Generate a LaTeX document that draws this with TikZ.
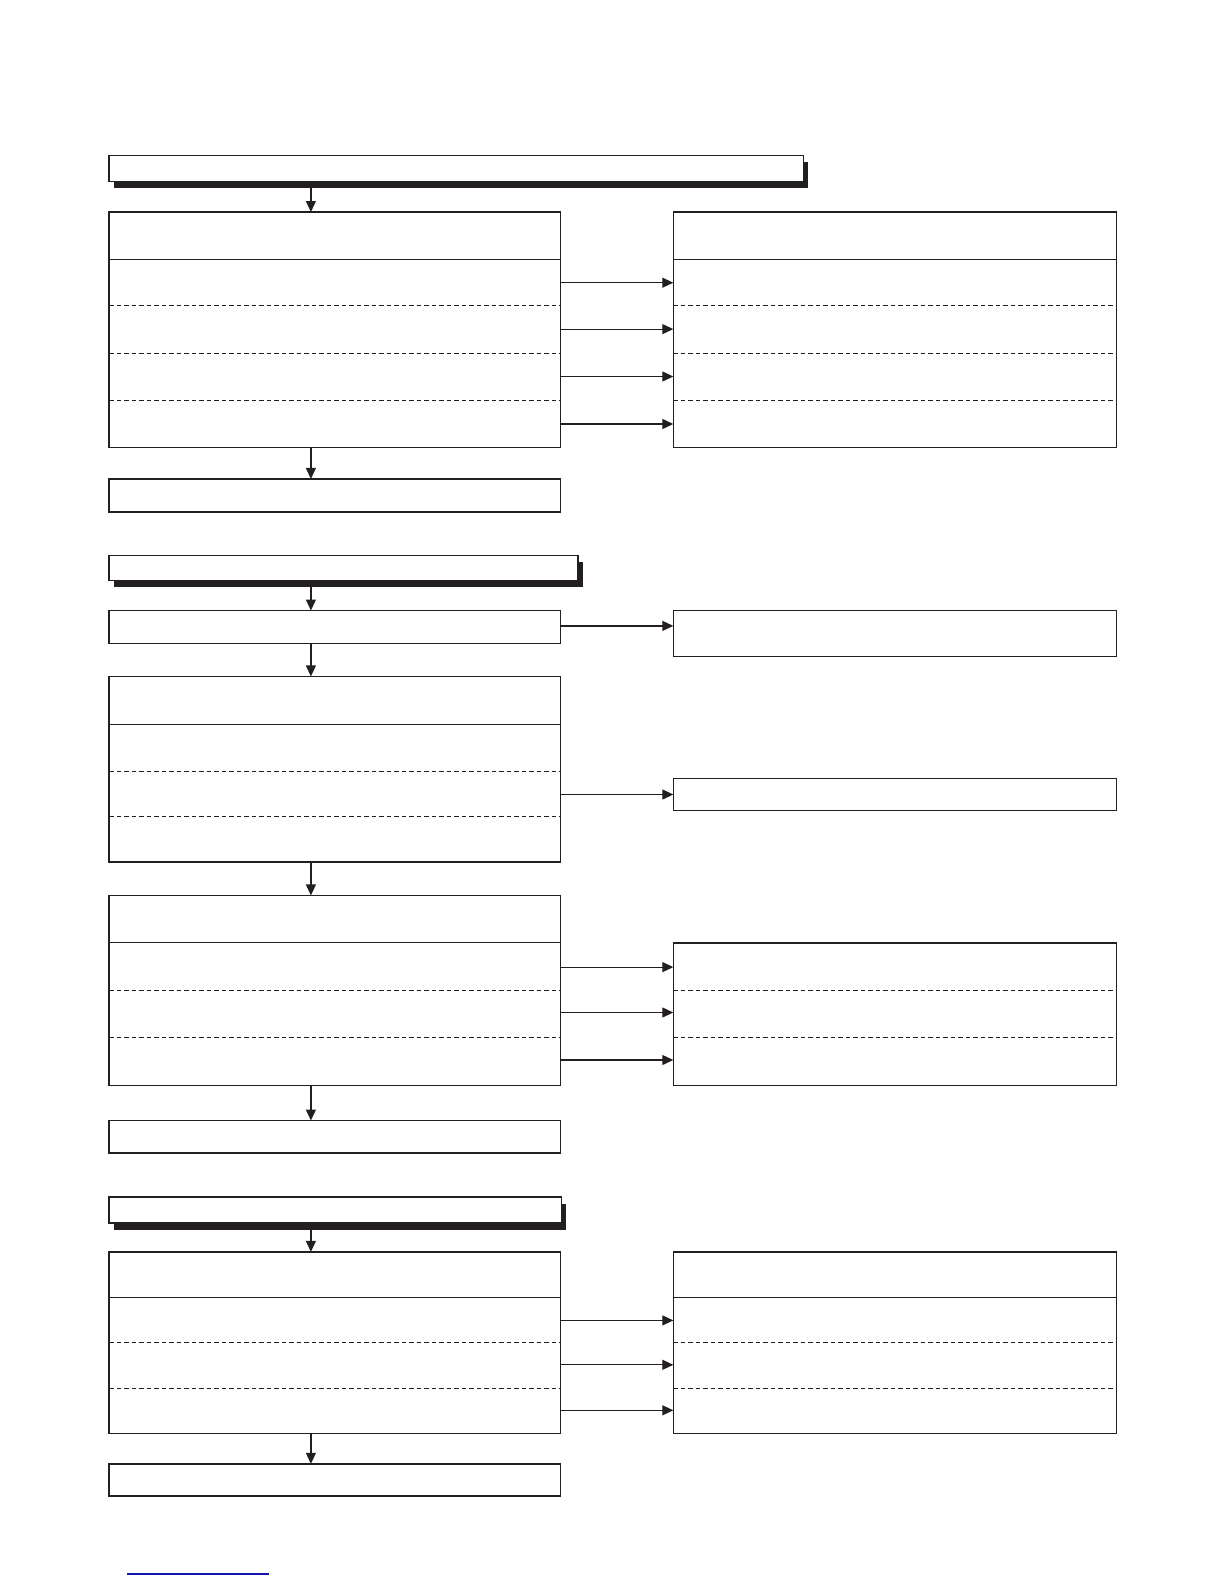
\documentclass[tikz,border=0pt]{standalone}
\usetikzlibrary{arrows.meta}
\definecolor{ink}{RGB}{35,31,32}
\definecolor{linkblue}{RGB}{20,20,170}
\begin{document}
\begin{tikzpicture}[x=1pt,y=-1pt,
  box/.style={draw=ink, line width=1.4pt, fill=white, rectangle, inner sep=0pt, outer sep=0pt, anchor=north west},
  shadowbox/.style={fill=ink, draw=none, rectangle, inner sep=0pt, outer sep=0pt, anchor=north west},
  div/.style={draw=ink, line width=1pt},
  dsh/.style={draw=ink, line width=1pt, dash pattern=on 4.5pt off 3pt},
  arr/.style={draw=ink, line width=1.2pt, -{Triangle[length=11pt,width=10pt]}}]
\useasboundingbox (0,0) rectangle (1224,1584);
\coordinate (cx) at (310.9,0);

% ---- section 1
\node[shadowbox, minimum width=694.6pt, minimum height=26.2pt] (T1s) at (113.5,162) {};
\node[box, minimum width=694.6pt, minimum height=26.2pt] (T1) at (109,155.5) {};
\node[box, minimum width=451.3pt, minimum height=235.2pt] (A) at (109,212) {};
\node[box, minimum width=443.2pt, minimum height=235.2pt] (B) at (673.3,212) {};
\node[box, minimum width=451.3pt, minimum height=33.1pt] (C) at (109,478.9) {};
\draw[div] (A.west |- 0,259.4) -- (A.east |- 0,259.4);
\draw[dsh] (A.west |- 0,305.9) -- (A.east |- 0,305.9);
\draw[dsh] (A.west |- 0,353.3) -- (A.east |- 0,353.3);
\draw[dsh] (A.west |- 0,400.8) -- (A.east |- 0,400.8);
\draw[div] (B.west |- 0,259.4) -- (B.east |- 0,259.4);
\draw[dsh] (B.west |- 0,305.9) -- (B.east |- 0,305.9);
\draw[dsh] (B.west |- 0,353.3) -- (B.east |- 0,353.3);
\draw[dsh] (B.west |- 0,400.8) -- (B.east |- 0,400.8);
\draw[arr] (T1s.south -| cx) -- (A.north -| cx);
\draw[arr] (A.east |- 0,282.7) -- (B.west |- 0,282.7);
\draw[arr] (A.east |- 0,329.1) -- (B.west |- 0,329.1);
\draw[arr] (A.east |- 0,376.5) -- (B.west |- 0,376.5);
\draw[arr] (A.east |- 0,424.0) -- (B.west |- 0,424.0);
\draw[arr] (A.south -| cx) -- (C.north -| cx);

% ---- section 2
\node[shadowbox, minimum width=469pt, minimum height=25.4pt] (T2s) at (113.5,561.8) {};
\node[box, minimum width=469pt, minimum height=25.4pt] (T2) at (109,555.3) {};
\node[box, minimum width=451.3pt, minimum height=32.8pt] (D) at (109,610.5) {};
\node[box, minimum width=443.2pt, minimum height=45.5pt] (E) at (673.3,610.7) {};
\node[box, minimum width=451.3pt, minimum height=185.7pt] (F) at (109,676.4) {};
\node[box, minimum width=443.2pt, minimum height=32.3pt] (G) at (673.3,778.3) {};
\node[box, minimum width=451.3pt, minimum height=189.8pt] (H) at (109,895.4) {};
\node[box, minimum width=443.2pt, minimum height=142.3pt] (I) at (673.3,942.9) {};
\node[box, minimum width=451.3pt, minimum height=32.3pt] (J) at (109,1120.5) {};
\draw[div] (F.west |- 0,724.8) -- (F.east |- 0,724.8);
\draw[dsh] (F.west |- 0,771.3) -- (F.east |- 0,771.3);
\draw[dsh] (F.west |- 0,816.7) -- (F.east |- 0,816.7);
\draw[div] (H.west |- 0,942.9) -- (H.east |- 0,942.9);
\draw[dsh] (H.west |- 0,990.3) -- (H.east |- 0,990.3);
\draw[dsh] (H.west |- 0,1037.8) -- (H.east |- 0,1037.8);
\draw[dsh] (I.west |- 0,990.3) -- (I.east |- 0,990.3);
\draw[dsh] (I.west |- 0,1037.8) -- (I.east |- 0,1037.8);
\draw[arr] (T2s.south -| cx) -- (D.north -| cx);
\draw[arr] (D.east |- 0,625.9) -- (E.west |- 0,625.9);
\draw[arr] (D.south -| cx) -- (F.north -| cx);
\draw[arr] (F.east |- 0,794.5) -- (G.west |- 0,794.5);
\draw[arr] (F.south -| cx) -- (H.north -| cx);
\draw[arr] (H.east |- 0,967.1) -- (I.west |- 0,967.1);
\draw[arr] (H.east |- 0,1012.5) -- (I.west |- 0,1012.5);
\draw[arr] (H.east |- 0,1060.0) -- (I.west |- 0,1060.0);
\draw[arr] (H.south -| cx) -- (J.north -| cx);

% ---- section 3
\node[shadowbox, minimum width=452.7pt, minimum height=26pt] (T3s) at (113.5,1203.5) {};
\node[box, minimum width=452.7pt, minimum height=26pt] (T3) at (109,1197) {};
\node[box, minimum width=451.3pt, minimum height=181.7pt] (K) at (109,1251.8) {};
\node[box, minimum width=443.2pt, minimum height=181.7pt] (L) at (673.3,1251.8) {};
\node[box, minimum width=451.3pt, minimum height=32.3pt] (M) at (109,1463.8) {};
\draw[div] (K.west |- 0,1297.2) -- (K.east |- 0,1297.2);
\draw[dsh] (K.west |- 0,1342.6) -- (K.east |- 0,1342.6);
\draw[dsh] (K.west |- 0,1388.1) -- (K.east |- 0,1388.1);
\draw[div] (L.west |- 0,1297.2) -- (L.east |- 0,1297.2);
\draw[dsh] (L.west |- 0,1342.6) -- (L.east |- 0,1342.6);
\draw[dsh] (L.west |- 0,1388.1) -- (L.east |- 0,1388.1);
\draw[arr] (T3s.south -| cx) -- (K.north -| cx);
\draw[arr] (K.east |- 0,1320.4) -- (L.west |- 0,1320.4);
\draw[arr] (K.east |- 0,1364.8) -- (L.west |- 0,1364.8);
\draw[arr] (K.east |- 0,1410.3) -- (L.west |- 0,1410.3);
\draw[arr] (K.south -| cx) -- (M.north -| cx);

% ---- footer rule
\draw[linkblue, line width=1.2pt] (127,1574) -- (269,1574);
\end{tikzpicture}
\end{document}
